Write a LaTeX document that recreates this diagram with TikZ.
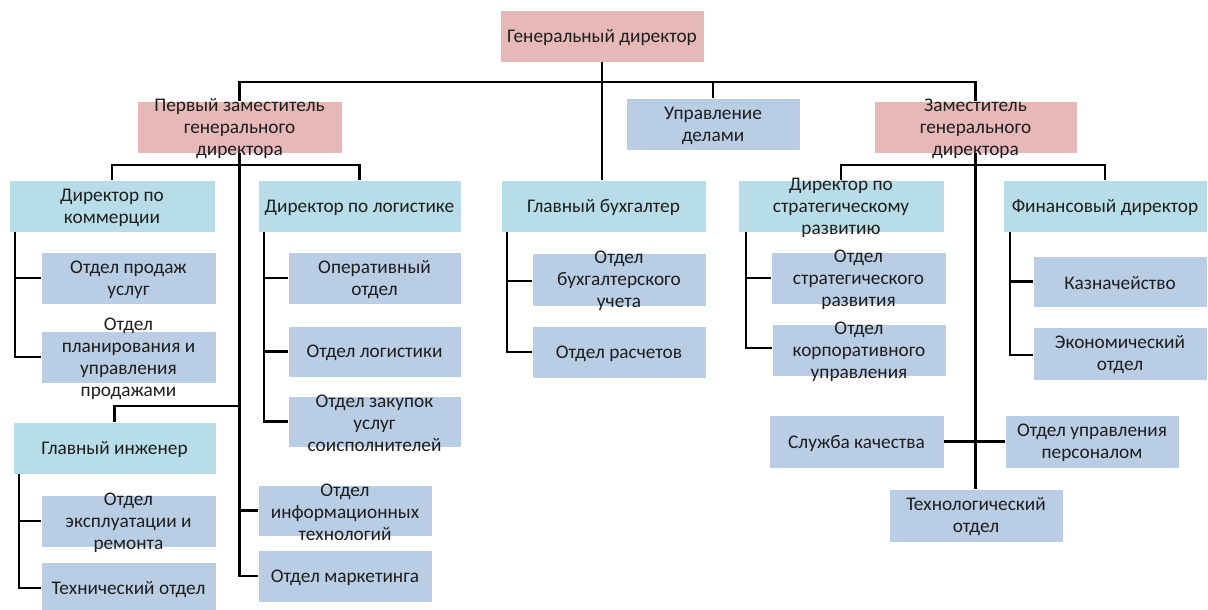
\documentclass[tikz,border=0pt]{standalone}
\usepackage{fontspec}
\setmainfont{Carlito}
\definecolor{chiefpink}{RGB}{230,184,183}
\definecolor{headblue}{RGB}{183,222,232}
\definecolor{deptblue}{RGB}{185,205,229}
\definecolor{inkgray}{RGB}{30,30,30}
\tikzset{
  unit/.style={rectangle, inner sep=0pt, outer sep=0pt, draw=white, line width=0.8pt},
  chief/.style={unit, fill=chiefpink},
  head/.style={unit, fill=headblue},
  dept/.style={unit, fill=deptblue},
  sz/.style 2 args={minimum width=#1pt, minimum height=#2pt},
  boxtext/.style={align=center, inner sep=0pt, text=inkgray, font=\fontsize{19.3}{22}\selectfont, yshift=-1.5pt},
  txt/.style={label={[boxtext]center:{#1}}},
  link/.style={draw=black, line width=2.8pt, line join=miter},
}
\begin{document}
\begin{tikzpicture}[x=1pt,y=-1pt]
\useasboundingbox (0,0) rectangle (1208,610);
\clip (0,0) rectangle (1208,610);

% top management
\node[chief, sz={204}{52}, txt={Генеральный директор}] (gd) at (602,36) {};
\node[chief, sz={205}{52}, txt={Первый заместитель\\генерального\\директора}] (pz) at (239.5,127) {};
\node[dept, sz={174}{52}, txt={Управление\\делами}] (ud) at (713,124) {};
\node[chief, sz={203}{52}, txt={Заместитель\\генерального\\директора}] (zgd) at (975.5,127) {};

% directors
\node[head, sz={206}{52}, txt={Директор по\\коммерции}] (kom) at (112,206) {};
\node[head, sz={203}{52}, txt={Директор по логистике}] (log) at (359.5,206) {};
\node[head, sz={205}{52}, txt={Главный бухгалтер}] (gb) at (603.5,206) {};
\node[head, sz={206}{52}, txt={Директор по\\стратегическому\\развитию}] (dsr) at (841,206) {};
\node[head, sz={204}{52}, txt={Финансовый директор}] (fd) at (1105,206) {};
\node[head, sz={203}{52}, txt={Главный инженер}] (gi) at (114.5,448) {};

% departments, left wing
\node[dept, sz={175}{52}, txt={Отдел продаж\\услуг}] (prod) at (128.5,278) {};
\node[dept, sz={175}{52}, txt={Отдел\\планирования и\\управления\\продажами}] (plan) at (128.5,357) {};
\node[dept, sz={173}{52}, txt={Оперативный\\отдел}] (oper) at (374.5,278) {};
\node[dept, sz={173}{51}, txt={Отдел логистики}] (olog) at (374.5,351.5) {};
\node[dept, sz={173}{51}, txt={Отдел закупок\\услуг\\соисполнителей}] (zak) at (374.5,421.5) {};
\node[dept, sz={175}{52}, txt={Отдел\\эксплуатации и\\ремонта}] (expl) at (128.5,521) {};
\node[dept, sz={175}{52}, txt={Технический отдел}] (techo) at (128.5,588) {};
\node[dept, sz={174}{51}, txt={Отдел\\информационных\\технологий}] (it) at (345,510.5) {};
\node[dept, sz={174}{52}, txt={Отдел маркетинга}] (mkt) at (345,576) {};

% departments, centre
\node[dept, sz={174}{53}, txt={Отдел\\бухгалтерского\\учета}] (buh) at (619,279.5) {};
\node[dept, sz={174}{52}, txt={Отдел расчетов}] (rasch) at (619,352) {};

% departments, right wing
\node[dept, sz={175}{52}, txt={Отдел\\стратегического\\развития}] (osr) at (858.5,278) {};
\node[dept, sz={174}{52}, txt={Отдел\\корпоративного\\управления}] (oku) at (859,350) {};
\node[dept, sz={174}{51}, txt={Казначейство}] (kazn) at (1120,281.5) {};
\node[dept, sz={174}{53}, txt={Экономический\\отдел}] (econ) at (1120,353.5) {};
\node[dept, sz={175}{53}, txt={Служба качества}] (sk) at (856.5,441.5) {};
\node[dept, sz={174}{53}, txt={Отдел управления\\персоналом}] (oup) at (1092,441.5) {};
\node[dept, sz={174}{53}, txt={Технологический\\отдел}] (tex) at (976,515.5) {};

% bus levels
\coordinate (topbus) at (0,82);
\coordinate (midbus) at (0,165);
\coordinate (gibus) at (0,406);

% level 1
\draw[link] (gd.south) -- (gd.south |- gb.north);
\draw[link] (pz.north) -- (pz.north |- topbus) -| (zgd.north);
\draw[link] (ud.north) -- (ud.north |- topbus);

% first deputy
\draw[link] (kom.north) -- (kom.north |- midbus) -| (log.north);
\draw[link] (pz.south) |- (mkt.west);
\draw[link] (pz.south) |- (it.west);
\draw[link] (pz.south |- gibus) -| (gi.north);

% deputy
\draw[link] (dsr.north) -- (dsr.north |- midbus) -| (fd.north);
\draw[link] (zgd.south) -- (zgd.south |- tex.north);
\draw[link] (sk.east) -- (oup.west);

% side branches of the directors
\coordinate (komroot) at ([xshift=6pt]kom.south west);
\draw[link] (komroot) |- (prod.west);
\draw[link] (komroot) |- (plan.west);

\coordinate (logroot) at ([xshift=6pt]log.south west);
\draw[link] (logroot) |- (oper.west);
\draw[link] (logroot) |- (olog.west);
\draw[link] (logroot) |- (zak.west);

\coordinate (giroot) at ([xshift=6pt]gi.south west);
\draw[link] (giroot) |- (expl.west);
\draw[link] (giroot) |- (techo.west);

\coordinate (gbroot) at ([xshift=6pt]gb.south west);
\draw[link] (gbroot) |- ([yshift=-1.5pt]buh.west);
\draw[link] (gbroot) |- (rasch.west);

\coordinate (dsrroot) at ([xshift=8pt]dsr.south west);
\draw[link] (dsrroot) |- (osr.west);
\draw[link] (dsrroot) |- ([yshift=2pt]oku.west);

\coordinate (fdroot) at ([xshift=7pt]fd.south west);
\draw[link] (fdroot) |- (kazn.west);
\draw[link] (fdroot) |- ([yshift=-1.5pt]econ.west);
\end{tikzpicture}
\end{document}
